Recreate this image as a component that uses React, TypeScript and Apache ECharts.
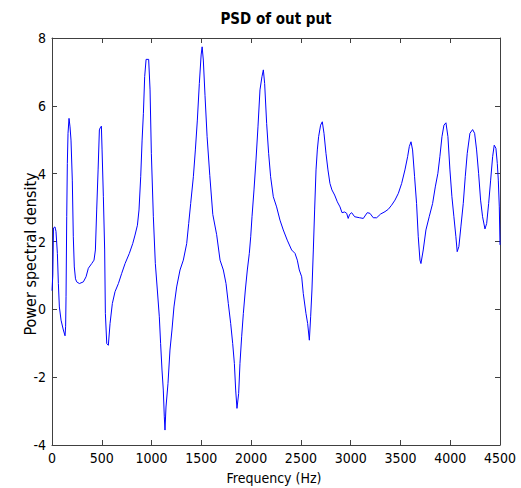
import React, { useEffect, useRef } from "react";
import * as echarts from "echarts";

const titleText = "PSD of out put";
const xAxisName = "Frequency (Hz)";
const yAxisName = "Power spectral density";

const frequencies = [
  0, 8, 15, 30, 40, 54, 64, 74, 91, 114, 131, 137, 141, 148, 154, 161, 171, 181, 191, 204,
  214, 224, 236, 248, 275, 315, 342, 365, 399, 422, 436, 449, 463, 476, 484, 496, 503, 516, 529, 536,
  550, 566, 583, 606, 633, 667, 700, 734, 777, 811, 834, 858, 874, 891, 905, 918, 931, 945, 971, 985,
  998, 1018, 1038, 1058, 1078, 1091, 1105, 1118, 1128, 1135, 1145, 1165, 1185, 1205, 1225, 1252, 1286, 1319, 1353, 1373,
  1393, 1420, 1440, 1460, 1480, 1498, 1508, 1520, 1537, 1558, 1585, 1615, 1654, 1688, 1721, 1748, 1771, 1795, 1815, 1832,
  1845, 1858, 1875, 1888, 1905, 1922, 1942, 1962, 1982, 1996, 2009, 2029, 2049, 2069, 2089, 2109, 2123, 2136, 2156, 2176,
  2196, 2223, 2256, 2290, 2323, 2363, 2407, 2441, 2464, 2484, 2508, 2524, 2551, 2568, 2585, 2598, 2611, 2625, 2638, 2652,
  2665, 2678, 2698, 2715, 2732, 2752, 2772, 2792, 2812, 2839, 2866, 2893, 2913, 2940, 2960, 2975, 2990, 3010, 3040, 3090,
  3127, 3150, 3167, 3194, 3227, 3261, 3301, 3345, 3378, 3411, 3445, 3479, 3512, 3545, 3572, 3589, 3606, 3622, 3642, 3662,
  3679, 3696, 3706, 3729, 3756, 3789, 3823, 3850, 3876, 3896, 3917, 3937, 3957, 3977, 3997, 4017, 4037, 4057, 4070, 4087,
  4107, 4131, 4151, 4171, 4198, 4225, 4245, 4265, 4285, 4305, 4325, 4349, 4366, 4386, 4406, 4426, 4442, 4459, 4473, 4483,
  4493, 4500,
];

const psdValues = [
  0.55, 1.0, 2.4, 2.43, 2.3, 1.65, 0.76, 0.07, -0.32, -0.61, -0.78, -0.5, 0.37, 2.73, 4.3, 5.19, 5.63, 5.38, 4.99, 3.81,
  2.14, 1.25, 0.9, 0.81, 0.76, 0.81, 0.96, 1.21, 1.35, 1.45, 1.75, 2.93, 4.11, 5.29, 5.35, 5.4, 4.7, 3.32, 1.75, -0.12,
  -1.01, -1.06, -0.42, 0.17, 0.52, 0.76, 1.06, 1.35, 1.65, 1.94, 2.19, 2.48, 2.93, 3.91, 4.99, 5.78, 6.86, 7.37, 7.37, 6.47,
  4.6, 2.73, 1.35, 0.57, -0.22, -1.01, -1.79, -2.38, -3.17, -3.56, -2.88, -2.19, -1.2, -0.61, 0.07, 0.66, 1.16, 1.45, 1.94, 2.53,
  3.12, 3.91, 4.7, 5.58, 6.66, 7.5, 7.74, 7.35, 6.3, 5.09, 3.95, 2.8, 2.2, 1.45, 1.16, 0.76, 0.17, -0.42, -1.01, -1.6,
  -2.38, -2.92, -2.48, -1.6, -0.81, -0.12, 0.57, 1.16, 1.65, 2.14, 2.73, 3.52, 4.4, 5.38, 6.47, 6.86, 7.06, 6.66, 5.48, 4.6,
  3.91, 3.32, 3.02, 2.63, 2.34, 2.04, 1.75, 1.65, 1.45, 1.16, 0.96, 0.47, -0.12, -0.42, -0.91, -0.22, 0.57, 1.75, 2.93, 4.11,
  4.7, 5.09, 5.43, 5.53, 5.19, 4.6, 4.11, 3.71, 3.52, 3.37, 3.17, 3.02, 2.85, 2.87, 2.83, 2.68, 2.8, 2.85, 2.73, 2.7,
  2.68, 2.78, 2.85, 2.83, 2.7, 2.7, 2.81, 2.88, 2.95, 3.07, 3.22, 3.42, 3.71, 4.11, 4.5, 4.8, 4.94, 4.7, 3.91, 3.12,
  2.14, 1.45, 1.35, 1.75, 2.34, 2.73, 3.12, 3.61, 4.01, 4.5, 5.09, 5.43, 5.5, 5.09, 4.11, 3.32, 2.73, 2.14, 1.7, 1.85,
  2.43, 3.12, 3.91, 4.6, 5.19, 5.3, 5.19, 4.7, 4.01, 3.22, 2.73, 2.37, 2.53, 3.12, 3.81, 4.5, 4.84, 4.75, 4.3, 3.81,
  3.02, 1.9,
];

const xMin = 0;
const xMax = 4500;
const xStep = 500;
const yMin = -4;
const yMax = 8;
const yStep = 2;

const FONT = "'Liberation Sans Narrow', 'Arial Narrow', 'DejaVu Sans Condensed', 'Liberation Sans', Arial, sans-serif";

export default function App() {
  const ref = useRef<HTMLDivElement>(null);

  useEffect(() => {
    if (!ref.current) return;
    const chart = echarts.init(ref.current, undefined, { renderer: "svg" });
    const frameColor = "#404040";
    const tick = { show: true, inside: true, length: 5, lineStyle: { color: frameColor, width: 1 } };
    const line = { show: true, onZero: false, lineStyle: { color: frameColor, width: 1 } };
    const data = frequencies.map((f, i) => [f, psdValues[i]]);
    const plain = (v: number) => String(v);

    chart.setOption({
      animation: false,
      backgroundColor: "#ffffff",
      grid: { left: 52, right: 21, top: 38, bottom: 43, containLabel: false },
      xAxis: [
        {
          type: "value", min: xMin, max: xMax, interval: xStep, position: "bottom",
          axisLine: line, axisTick: tick, splitLine: { show: false },
          axisLabel: { color: "#000", fontFamily: FONT, fontSize: 14, margin: 6, formatter: plain },
        },
        {
          type: "value", min: xMin, max: xMax, interval: xStep, position: "top",
          axisLine: line, axisTick: tick, splitLine: { show: false }, axisLabel: { show: false },
        },
      ],
      yAxis: [
        {
          type: "value", min: yMin, max: yMax, interval: yStep, position: "left",
          axisLine: line, axisTick: tick, splitLine: { show: false },
          axisLabel: { color: "#000", fontFamily: FONT, fontSize: 14, margin: 6, formatter: plain },
        },
        {
          type: "value", min: yMin, max: yMax, interval: yStep, position: "right",
          axisLine: line, axisTick: tick, splitLine: { show: false }, axisLabel: { show: false },
        },
      ],
      graphic: [
        {
          type: "text", x: 276, y: 19,
          style: { text: titleText, font: `bold 15px ${FONT}`, fill: "#000", align: "center", verticalAlign: "middle" },
        },
        {
          type: "text", x: 274, y: 478,
          style: { text: xAxisName, font: `14px ${FONT}`, fill: "#000", align: "center", verticalAlign: "middle" },
        },
        {
          type: "text", x: 30, y: 254, rotation: Math.PI / 2,
          style: { text: yAxisName, font: `16px ${FONT}`, fill: "#000", align: "center", verticalAlign: "middle" },
        },
      ],
      series: [
        {
          type: "line", data, xAxisIndex: 0, yAxisIndex: 0, showSymbol: false, symbol: "none",
          lineStyle: { color: "#0000ff", width: 1 }, smooth: false,
        },
      ],
    });
    return () => chart.dispose();
  }, []);

  return <div ref={ref} style={{ position: "fixed", left: 0, top: 0, width: 521, height: 488 }} />;
}
